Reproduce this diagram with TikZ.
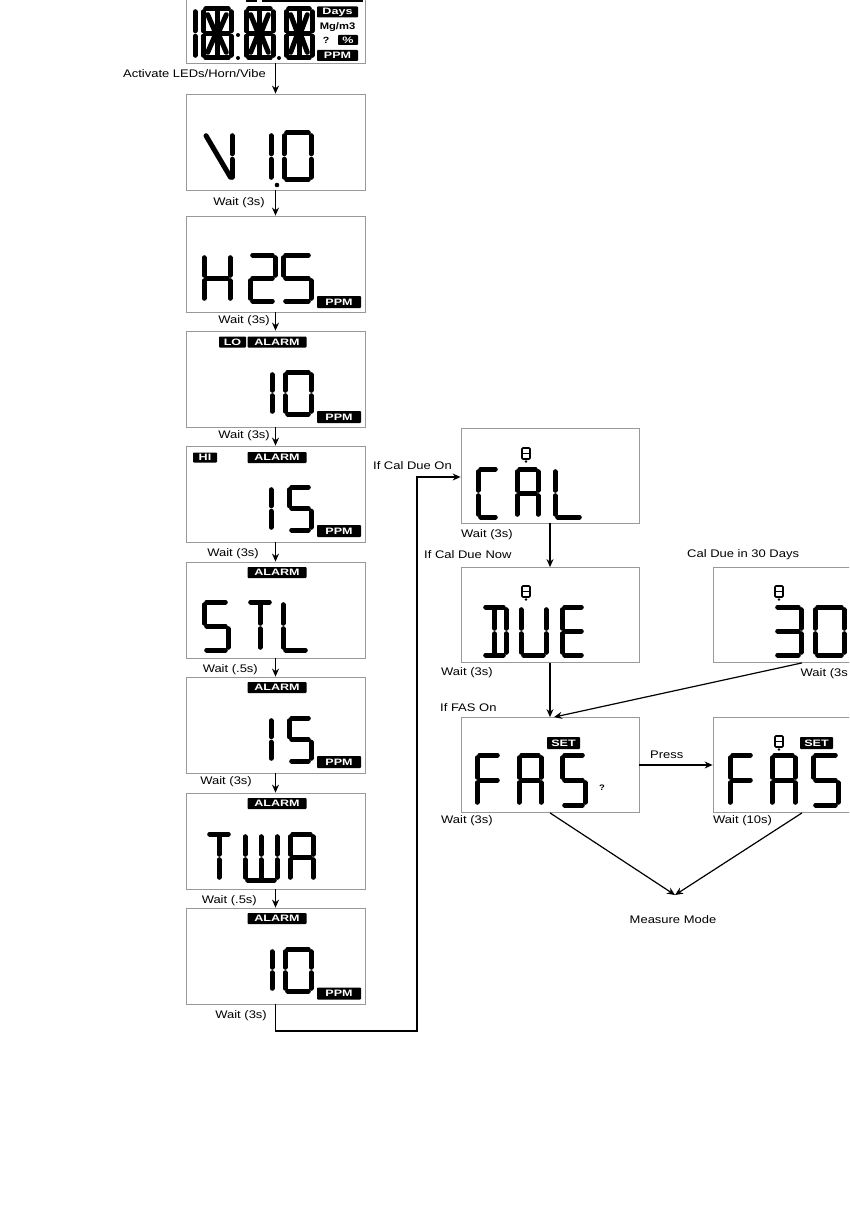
\documentclass[tikz,border=0pt]{standalone}
\usepackage{fontspec}
\setmainfont{Liberation Sans}[FakeStretch=1.18]
\newfontfamily\invfont{Liberation Sans}[FakeStretch=1.35]
\usetikzlibrary{arrows.meta}
\tikzset{
 lcd/.style={draw=black!40, line width=0.8pt, minimum width=179pt, minimum height=96pt, inner sep=0pt},
 lcdr/.style={lcd, minimum width=178pt, minimum height=95pt},
 seg/.style={line width=5pt, line cap=round},
 arr/.style={line width=1.2pt, -{Stealth[length=8pt,width=7pt]}},
 lbl/.style={font=\fontsize{11}{12}\selectfont, inner sep=0pt},
 inv/.style={fill=black, text=white, inner sep=0pt, font=\invfont\bfseries\fontsize{9.3}{10}\selectfont, rounded corners=0.8pt},
 icon/.style={line width=1.6pt, rounded corners=1pt},
}
\def\gp{2.7}
\newcommand\sga{\draw[seg] (\gp,0)--({\gw-\gp},0);}
\newcommand\sgb{\draw[seg] (\gw,\gp)--(\gw,{\gh/2-\gp});}
\newcommand\sgc{\draw[seg] (\gw,{\gh/2+\gp})--(\gw,{\gh-\gp});}
\newcommand\sgd{\draw[seg] (\gp,\gh)--({\gw-\gp},\gh);}
\newcommand\sge{\draw[seg] (0,{\gh/2+\gp})--(0,{\gh-\gp});}
\newcommand\sgf{\draw[seg] (0,\gp)--(0,{\gh/2-\gp});}
\newcommand\sgg{\draw[seg] (\gp,{\gh/2})--({\gw-\gp},{\gh/2});}
\newcommand\sgi{\draw[seg] ({\gw/2},\gp)--({\gw/2},{\gh/2-\gp});}
\newcommand\sgj{\draw[seg] ({\gw/2},{\gh/2+\gp})--({\gw/2},{\gh-\gp});}
\newcommand\sgv{\draw[seg] (0,\gp)--({\gw-1.5},{\gh-\gp});}
\newcommand\sgk{\draw[seg] ({\gp+2},{\gp+3})--({\gw/2-\gp},{\gh/2-\gp-1});}
\newcommand\sgl{\draw[seg] ({\gw-\gp-2},{\gp+3})--({\gw/2+\gp},{\gh/2-\gp-1});}
\newcommand\sgm{\draw[seg] ({\gp+2},{\gh-\gp-3})--({\gw/2-\gp},{\gh/2+\gp+1});}
\newcommand\sgn{\draw[seg] ({\gw-\gp-2},{\gh-\gp-3})--({\gw/2+\gp},{\gh/2+\gp+1});}
\newcommand\dig[5]{\begin{scope}[shift={(#1,#2)}]\def\gw{#3}\def\gh{#4}\foreach \s in {#5}{\csname sg\s\endcsname}\end{scope}}
\newcommand\bicon[2]{\draw[icon] (#1,#2) rectangle ++(8,11); \draw[line width=1.4pt] (#1,{#2+5.5}) -- ++(8,0); \fill ({#1+4},{#2+13.5}) circle (1.3);}
\begin{document}
\begin{tikzpicture}[x=1pt,y=-1pt]
\useasboundingbox (0,0) rectangle (849,1209);
\clip (0,0) rectangle (849,1209);
% ---------- left column boxes
\node[lcd] (b0) at (275.5,15) {};
\node[lcd] (b1) at (275.5,142) {};
\node[lcd] (b2) at (275.5,264) {};
\node[lcd] (b3) at (275.5,379) {};
\node[lcd] (b4) at (275.5,494) {};
\node[lcd] (b5) at (275.5,610) {};
\node[lcd] (b6) at (275.5,725) {};
\node[lcd] (b7) at (275.5,841) {};
\node[lcd] (b8) at (275.5,956) {};
% ---------- right boxes
\node[lcdr] (cal) at (550,475.5) {};
\node[lcdr] (due) at (550,615) {};
\node[lcdr] (d30) at (802,615) {};
\node[lcdr] (fas) at (550,765) {};
\node[lcdr] (fas2) at (802,765) {};
% ---------- box 0 content
\fill (246,-8) rectangle (257,2.5);
\fill (262,-8) rectangle (363,2.5);
\dig{195}{9}{0}{49}{f,e}
\dig{203}{9}{28}{49}{a,b,c,d,e,f,g,i,j,k,l,m,n}
\dig{246}{9}{27}{49}{a,b,c,d,e,f,g,i,j,k,l,m,n}
\dig{286}{9}{26}{49}{a,b,c,d,e,f,g,i,j,k,l,m,n}
\fill (238,35) circle (2); \fill (238,58) circle (2); \fill (279,58) circle (2);
\node[inv, minimum width=41pt, minimum height=11pt] (days) at (337.5,12) {Days};
\node[inner sep=0pt, font=\bfseries\fontsize{9.5}{10}\selectfont] (mg) at (337.5,27) {Mg/m3};
\node[inner sep=0pt, font=\bfseries\fontsize{9}{10}\selectfont] (q0) at (326,40) {?};
\node[inv, minimum width=20pt, minimum height=10pt] (pct) at (348,40) {\%};
\node[inv, minimum width=41pt, minimum height=11pt] (ppm0) at (337.5,55.5) {PPM};
% ---------- box 1: V 1.0
\dig{206}{133}{26}{47}{v,b,c}
\dig{271}{133}{0}{47}{f,e}
\fill (277,185) circle (2.3);
\dig{284}{133}{27}{47}{a,b,c,d,e,f}
% ---------- box 2: H2S
\dig{204}{255}{26}{46}{f,e,b,c,g}
\dig{250}{255}{25}{46}{a,b,g,e,d}
\dig{283}{255}{28}{46}{a,f,g,c,d}
\node[inv, minimum width=44pt, minimum height=12pt] (ppm2) at (339,302) {PPM};
% ---------- box 3: LO ALARM 10
\node[inv, minimum width=27pt, minimum height=11pt] (lo) at (232.5,342) {LO};
\node[inv, minimum width=59pt, minimum height=11pt] (al3) at (277,342) {ALARM};
\dig{272}{372}{0}{42}{f,e}
\dig{285}{372}{26}{42}{a,b,c,d,e,f}
\node[inv, minimum width=44pt, minimum height=12pt] (ppm3) at (339,417) {PPM};
% ---------- box 4: HI ALARM 15
\node[inv, minimum width=24pt, minimum height=10pt] (hi) at (205,457.5) {HI};
\node[inv, minimum width=59pt, minimum height=11pt] (al4) at (277,457.5) {ALARM};
\dig{271}{487}{0}{43}{f,e}
\dig{289}{487}{22}{43}{a,f,g,c,d}
\node[inv, minimum width=44pt, minimum height=12pt] (ppm4) at (339,531) {PPM};
% ---------- box 5: ALARM STL
\node[inv, minimum width=59pt, minimum height=11pt] (al5) at (277,572.5) {ALARM};
\dig{204}{602}{24}{48}{a,f,g,c,d}
\dig{248}{602}{24}{48}{a,i,j}
\dig{283}{602}{25}{48}{f,e,d}
% ---------- box 6: ALARM 15
\node[inv, minimum width=59pt, minimum height=11pt] (al6) at (277,687.5) {ALARM};
\dig{271}{718}{0}{43}{f,e}
\dig{289}{718}{22}{43}{a,f,g,c,d}
\node[inv, minimum width=44pt, minimum height=12pt] (ppm6) at (339,762) {PPM};
% ---------- box 7: ALARM TWA
\node[inv, minimum width=59pt, minimum height=11pt] (al7) at (277,803.5) {ALARM};
\dig{207}{834}{24}{46}{a,i,j}
\dig{245}{834}{32}{46}{f,e,b,c,i,j,d}
\dig{290}{834}{23}{46}{a,f,e,b,c,g}
% ---------- box 8: ALARM 10
\node[inv, minimum width=59pt, minimum height=11pt] (al8) at (277,918.5) {ALARM};
\dig{272}{949}{0}{42}{f,e}
\dig{285}{949}{26}{42}{a,b,c,d,e,f}
\node[inv, minimum width=44pt, minimum height=12pt] (ppm8) at (339,993.5) {PPM};
% ---------- CAL
\bicon{522}{448}
\dig{478}{469}{20}{48}{a,f,e,d}
\dig{517}{469}{21}{48}{a,f,e,b,c,g}
\dig{555}{469}{27}{48}{f,e,d}
% ---------- DUE
\bicon{522}{586}
\dig{483}{607}{23}{48}{a,d,i,j,b,c}
\dig{521}{607}{25}{48}{f,e,b,c,d}
\dig{562}{607}{22}{48}{a,f,e,g,d}
% ---------- 30
\bicon{775}{586}
\dig{775}{607}{26}{48}{a,b,c,d,g}
\dig{815}{607}{29}{48}{a,b,c,d,e,f}
% ---------- FAS ?
\node[inv, minimum width=33pt, minimum height=12pt] (set1) at (563.5,743) {SET};
\dig{477}{755}{23}{50}{a,f,e,g}
\dig{519}{755}{22}{50}{a,f,e,b,c,g}
\dig{562}{755}{23}{50}{a,f,g,c,d}
\node[inner sep=0pt, font=\bfseries\fontsize{8}{9}\selectfont] (q1) at (602,788) {?};
% ---------- FAS (set)
\bicon{775}{736}
\node[inv, minimum width=33pt, minimum height=12pt] (set2) at (816.5,743) {SET};
\dig{730}{755}{23}{50}{a,f,e,g}
\dig{772}{755}{23}{50}{a,f,e,b,c,g}
\dig{813}{755}{25}{50}{a,f,g,c,d}
% ---------- labels
\node[lbl, anchor=east] (t0) at (266,74) {Activate LEDs/Horn/Vibe};
\node[lbl, anchor=east] (t1) at (265,203) {Wait (3s)};
\node[lbl, anchor=east] (t2) at (270,321) {Wait (3s)};
\node[lbl, anchor=east] (t3) at (270,435.5) {Wait (3s)};
\node[lbl, anchor=east] (t4) at (259,553.5) {Wait (3s)};
\node[lbl, anchor=east] (t5) at (258,669.5) {Wait (.5s)};
\node[lbl, anchor=east] (t6) at (252,782) {Wait (3s)};
\node[lbl, anchor=east] (t7) at (257,901) {Wait (.5s)};
\node[lbl, anchor=east] (t8) at (267,1016) {Wait (3s)};
\node[lbl, anchor=east] (t9) at (452,466) {If Cal Due On};
\node[lbl, anchor=west] (t10) at (461,535) {Wait (3s)};
\node[lbl, anchor=west] (t11) at (424,555) {If Cal Due Now};
\node[lbl, anchor=west] (t12) at (687,555) {Cal Due in 30 Days};
\node[lbl, anchor=west] (t13) at (441,673) {Wait (3s)};
\node[lbl, anchor=east] (t14) at (848,674) {Wait (3s};
\node[lbl, anchor=west] (t15) at (440,708) {If FAS On};
\node[lbl, anchor=west] (t16) at (650,755) {Press};
\node[lbl, anchor=west] (t17) at (441,821) {Wait (3s)};
\node[lbl, anchor=west] (t18) at (713,821) {Wait (10s)};
\node[lbl] (mmt) at (673,920) {Measure Mode};
% ---------- connectors
\draw[arr] (b0.south) -- (b1.north);
\draw[arr] (b1.south) -- (b2.north);
\draw[arr] (b2.south) -- (b3.north);
\draw[arr] (b3.south) -- (b4.north);
\draw[arr] (b4.south) -- (b5.north);
\draw[arr] (b5.south) -- (b6.north);
\draw[arr] (b6.south) -- (b7.north);
\draw[arr] (b7.south) -- (b8.north);
\coordinate (k1) at (417,1031);
\coordinate (k2) at (417,477);
\draw[arr] (b8.south) |- (k1) -- (k2) -- (k2 -| cal.west);
\draw[arr] (cal.south) -- (due.north);
\draw[arr] (due.south) -- (fas.north);
\draw[arr] (d30.south) -- ([xshift=4pt]fas.north);
\draw[arr] (fas.east) -- (fas2.west);
\coordinate (mm) at (675,895);
\draw[arr] (fas.south) -- (mm);
\draw[arr] (fas2.south) -- (mm);
\end{tikzpicture}
\end{document}
